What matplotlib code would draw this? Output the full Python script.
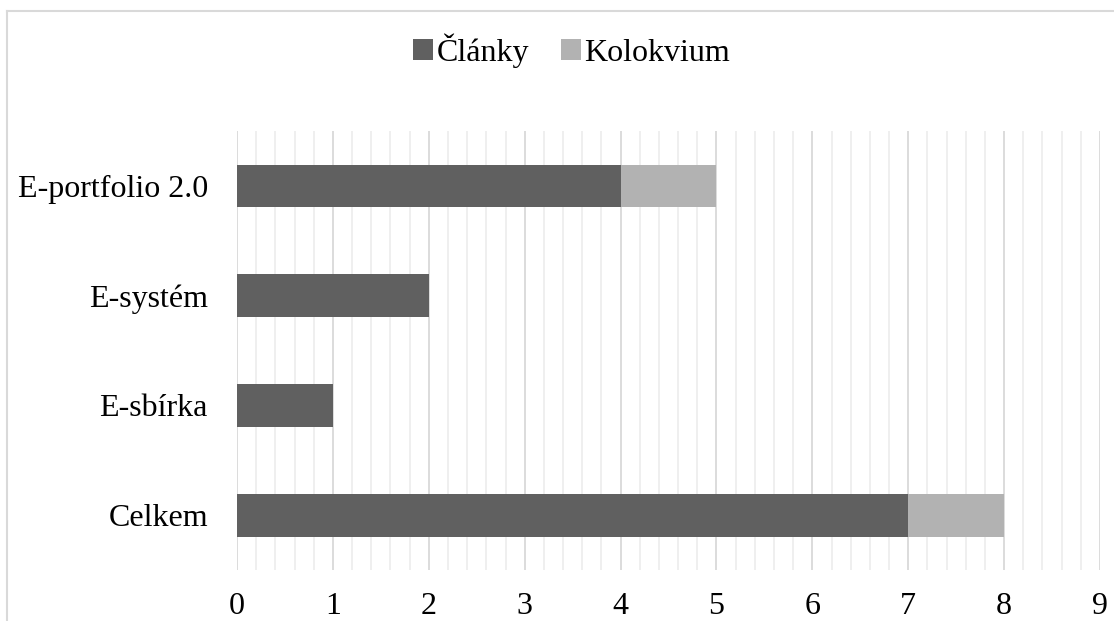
import numpy as np
import matplotlib.pyplot as plt
from matplotlib.lines import Line2D
from matplotlib.ticker import MultipleLocator

###-------------data-------------###
categories = ["Celkem", "E-sbírka", "E-systém", "E-portfolio 2.0"]
clanky = [7, 1, 2, 4]
kolokvium = [1, 0, 0, 1]
series_names = ["Články", "Kolokvium"]
colors = ["#606060", "#b2b2b2"]

plt.rcParams['font.family'] = ['Liberation Serif', 'DejaVu Serif']

###-------------figure-------------###
fig = plt.figure(figsize=(11.14, 6.21), dpi=100)
ax = fig.add_axes([0.2128, 0.0821, 0.7746, 0.7069])

y = np.arange(len(categories))
ax.barh(y, clanky, height=0.39, color=colors[0], label=series_names[0], zorder=3)
ax.barh(y, kolokvium, left=clanky, height=0.39, color=colors[1], label=series_names[1], zorder=3)

ax.set_xlim(0, 9)
ax.set_ylim(-0.5, 3.5)
ax.set_yticks(y)
ax.set_yticklabels(categories)
ax.xaxis.set_major_locator(MultipleLocator(1))
ax.xaxis.set_minor_locator(MultipleLocator(0.2))
ax.grid(axis='x', which='major', color='#d9d9d9', linewidth=1.3, zorder=0)
ax.grid(axis='x', which='minor', color='#eeeeee', linewidth=1.3, zorder=0)
ax.tick_params(axis='both', which='both', length=0, labelsize=23, colors='black')
ax.tick_params(axis='x', pad=16)
ax.tick_params(axis='y', pad=21)
for s in ax.spines.values():
    s.set_visible(False)

fig.legend(loc='center', bbox_to_anchor=(0.513, 0.919), ncol=2, frameon=False,
           fontsize=23, handlelength=0.62, handleheight=0.62, handletextpad=0.1,
           columnspacing=1.0)

# outer frame
fig.add_artist(Line2D([0.0065, 1.0], [0.982, 0.982], color='#d9d9d9', lw=1.5, transform=fig.transFigure))
fig.add_artist(Line2D([0.0065, 0.0065], [0.0, 0.982], color='#d9d9d9', lw=1.5, transform=fig.transFigure))

fig.savefig("out.png", dpi=100)
